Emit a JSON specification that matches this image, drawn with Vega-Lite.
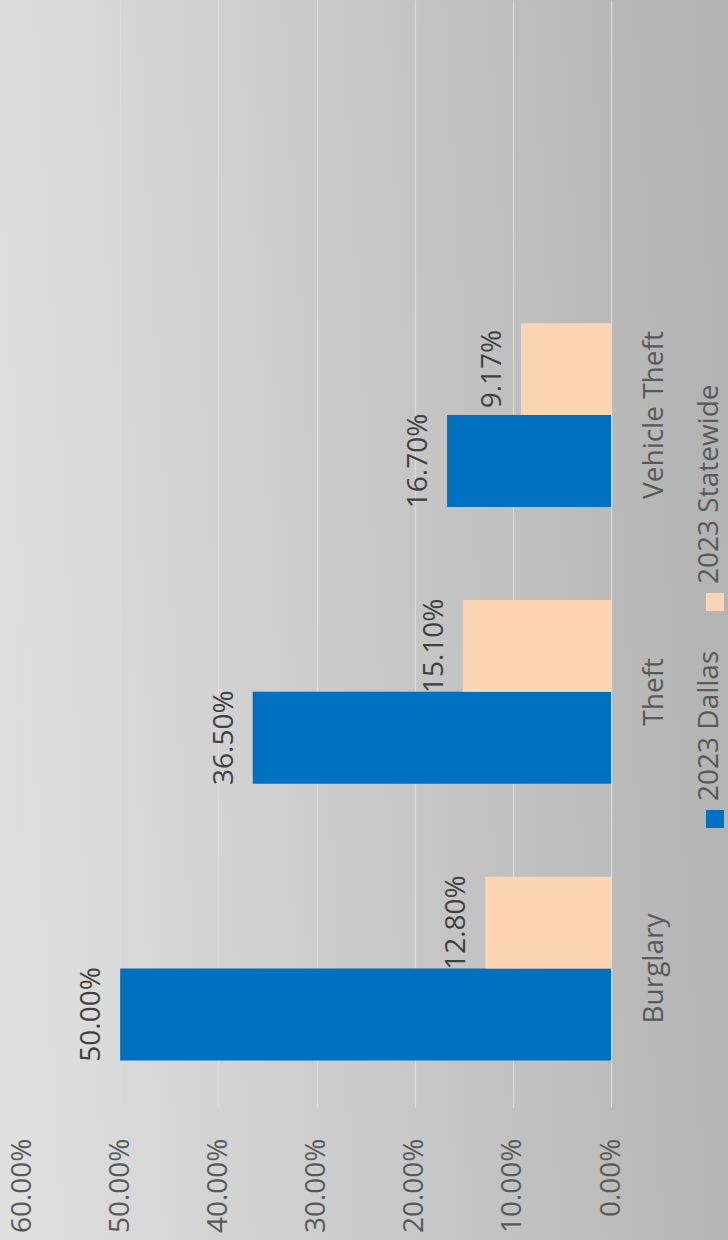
{
  "$schema": "https://vega.github.io/schema/vega-lite/v6.json",
  "width": 728,
  "height": 1240,
  "autosize": "none",
  "padding": 0,
  "background": "#c8c8c8",
  "view": {
    "stroke": null,
    "fill": {"expr": "{gradient: 'linear', x1: 0, y1: 0.55, x2: 1, y2: 0.45, stops: [{offset: 0, color: '#dfdfdf'}, {offset: 1, color: '#b3b3b3'}]}"}
  },
  "config": {
    "font": "Open Sans",
    "axis": {"labelFont": "Open Sans", "labelFontSize": 28, "labelColor": "#595959"}
  },
  "data": {
    "values": [
      {"category": "Burglary", "series": "2023 Dallas", "value": 0.5},
      {"category": "Theft", "series": "2023 Dallas", "value": 0.365},
      {"category": "Vehicle Theft", "series": "2023 Dallas", "value": 0.167},
      {"category": "Burglary", "series": "2023 Statewide", "value": 0.128},
      {"category": "Theft", "series": "2023 Statewide", "value": 0.151},
      {"category": "Vehicle Theft", "series": "2023 Statewide", "value": 0.0917}
    ]
  },
  "encoding": {
    "y": {
      "field": "category",
      "type": "nominal",
      "scale": {"domain": ["Vehicle Theft", "Theft", "Burglary"], "range": [0, 1107], "paddingInner": 0.336, "paddingOuter": 0.668, "align": 0.874},
      "axis": {"orient": "right", "offset": -117, "labelAngle": -90, "labelAlign": "center", "labelBaseline": "top", "labelPadding": 29, "ticks": false, "domain": false, "grid": false, "title": null}
    },
    "yOffset": {
      "field": "series",
      "type": "nominal",
      "scale": {"domain": ["2023 Statewide", "2023 Dallas"], "paddingInner": 0, "paddingOuter": 0}
    },
    "x": {
      "field": "value",
      "type": "quantitative",
      "scale": {"domain": [0, 0.6], "range": [611, 22], "nice": false, "zero": true},
      "axis": {"orient": "top", "values": [0, 0.1, 0.2, 0.3, 0.4, 0.5, 0.6], "format": ".2%", "labelAngle": -90, "labelAlign": "right", "labelBaseline": "middle", "labelPadding": -1138, "ticks": false, "domain": false, "grid": true, "gridColor": "#dcdcdc", "gridWidth": 1.2, "title": null}
    }
  },
  "layer": [
    {
      "mark": {"type": "text", "angle": 270, "align": "center", "baseline": "alphabetic", "dy": -20, "font": "Open Sans", "fontSize": 28, "color": "#404040"},
      "encoding": {"text": {"field": "value", "type": "quantitative", "format": ".2%"}}
    },
    {
      "mark": {"type": "bar"},
      "encoding": {
        "color": {
          "field": "series",
          "type": "nominal",
          "scale": {"domain": ["2023 Statewide", "2023 Dallas"], "range": ["#FCD5B4", "#0070C0"]},
          "legend": {
            "orient": "none",
            "legendX": 701,
            "legendY": 588,
            "direction": "vertical",
            "title": null,
            "padding": 0,
            "rowPadding": 39,
            "symbolType": "square",
            "symbolSize": 324,
            "symbolStrokeWidth": 0,
            "symbolOpacity": 1,
            "labelFont": "Open Sans",
            "labelFontSize": 28,
            "labelColor": "#595959",
            "labelLimit": 0,
            "encode": {
              "labels": {
                "update": {
                  "angle": {"value": -90},
                  "align": {"value": "left"},
                  "baseline": {"value": "middle"},
                  "x": {"value": 9},
                  "y": {"value": -4}
                }
              }
            }
          }
        }
      }
    }
  ]
}
